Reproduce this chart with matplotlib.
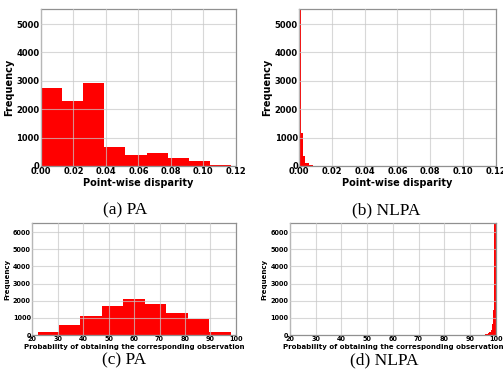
import matplotlib
matplotlib.use("Agg")
import matplotlib.pyplot as plt
import numpy as np

# (a) PA - point-wise disparity
a_edges = [0.0, 0.013, 0.026, 0.039, 0.052, 0.065, 0.078, 0.091, 0.104, 0.117]
a_counts = [2740, 2280, 2910, 680, 400, 470, 280, 160, 30]

# (b) NLPA - point-wise disparity
b_edges = [0.0, 0.0012, 0.0024, 0.0036, 0.0048, 0.006, 0.0072, 0.0084]
b_counts = [5800, 1150, 360, 120, 90, 50, 20]

# (c) PA - probability
c_edges = [13.7, 22.1, 30.5, 38.9, 47.4, 55.8, 64.3, 72.7, 81.1, 89.6, 98.0]
c_counts = [30, 175, 580, 1100, 1690, 2100, 1790, 1260, 950, 175]

# (d) NLPA - probability
d_edges = [95.0, 95.5, 96.0, 96.5, 97.0, 97.5, 98.0, 98.5, 99.0, 99.5, 100.0]
d_counts = [10, 20, 40, 70, 100, 200, 290, 640, 1460, 6600]

a_xticks = [0.00, 0.02, 0.04, 0.06, 0.08, 0.10, 0.12]
c_xticks = [20, 30, 40, 50, 60, 70, 80, 90, 100]

fig = plt.figure(figsize=(5.03, 3.86), dpi=100)

def panel(rect, edges, counts, xlim, ylim, xticks, yticks, xlabel, xfmt, ts, ls):
    ax = fig.add_axes(rect)
    e = np.array(edges)
    ax.bar(e[:-1], counts, width=np.diff(e), align='edge', color='red', linewidth=0, zorder=1)
    ax.set_xlim(*xlim)
    ax.set_ylim(*ylim)
    ax.set_xticks(xticks)
    ax.set_xticklabels([xfmt.format(t) for t in xticks], fontsize=ts, fontweight='bold')
    ax.set_yticks(yticks)
    ax.set_yticklabels([str(t) for t in yticks], fontsize=ts, fontweight='bold')
    ax.grid(True, color='#c8c8c8', linewidth=0.8, alpha=0.7, zorder=2)
    ax.set_axisbelow(False)
    ax.tick_params(length=0, pad=1)
    for s in ax.spines.values():
        s.set_color('#909090')
        s.set_linewidth(0.9)
    ax.set_xlabel(xlabel, fontsize=ls, fontweight='bold', labelpad=1)
    ax.set_ylabel('Frequency', fontsize=ls, fontweight='bold', labelpad=2)
    return ax

panel([0.0815, 0.570, 0.3875, 0.406], a_edges, a_counts, (0, 0.12), (0, 5520),
      a_xticks, [0, 1000, 2000, 3000, 4000, 5000], 'Point-wise disparity', '{:.2f}', 6, 7)
panel([0.595, 0.570, 0.3905, 0.406], b_edges, b_counts, (0, 0.12), (0, 5520),
      a_xticks, [0, 1000, 2000, 3000, 4000, 5000], 'Point-wise disparity', '{:.2f}', 6, 7)
panel([0.0642, 0.132, 0.4048, 0.2895], c_edges, c_counts, (20, 100), (0, 6520),
      c_xticks, [0, 1000, 2000, 3000, 4000, 5000, 6000],
      'Probability of obtaining the corresponding observation', '{}', 4.7, 5.05)
panel([0.5765, 0.132, 0.409, 0.2895], d_edges, d_counts, (20, 100), (0, 6520),
      c_xticks, [0, 1000, 2000, 3000, 4000, 5000, 6000],
      'Probability of obtaining the corresponding observation', '{}', 4.7, 5.05)

cap = dict(fontsize=12.5, family='Liberation Serif', ha='center', va='center')
fig.text(125 / 503, 1 - 210 / 386, '(a) PA', **cap)
fig.text(386 / 503, 1 - 210 / 386, '(b) NLPA', **cap)
fig.text(124 / 503, 1 - 360 / 386, '(c) PA', **cap)
fig.text(384 / 503, 1 - 360 / 386, '(d) NLPA', **cap)

fig.savefig('out.png', dpi=100)
